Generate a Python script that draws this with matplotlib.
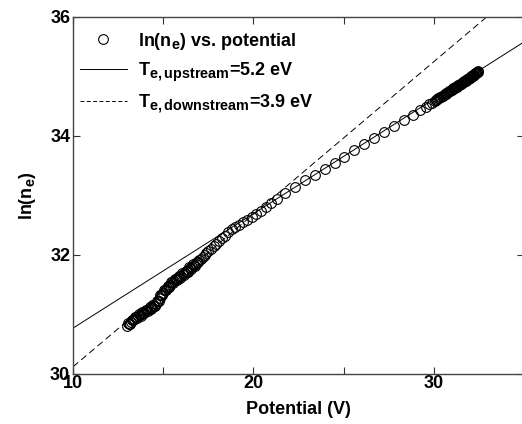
"""
ln(n_e) versus probe potential with upstream/downstream temperature fits.
"""

import matplotlib
matplotlib.use("Agg")
import matplotlib.pyplot as plt
from matplotlib.lines import Line2D

try:
    # MATLAB-like larger subscripts
    import matplotlib._mathtext as _mt
    _mt.SHRINK_FACTOR = 0.8
except Exception:
    pass

plt.rcParams["font.family"] = ["Liberation Sans", "DejaVu Sans"]
plt.rcParams["font.weight"] = "bold"
plt.rcParams["axes.labelweight"] = "bold"
plt.rcParams["mathtext.fontset"] = "custom"
plt.rcParams["mathtext.rm"] = "Liberation Sans:bold"
plt.rcParams["mathtext.it"] = "Liberation Sans:bold"
plt.rcParams["mathtext.bf"] = "Liberation Sans:bold"
plt.rcParams["mathtext.default"] = "regular"

# measured points (potential in V, ln(n_e))
potential = [
    13.0, 13.1, 13.2, 13.3, 13.4, 13.5, 13.6, 13.7, 13.8, 13.9,
    14.0, 14.1, 14.2, 14.3, 14.4, 14.5, 14.6, 14.7, 14.8, 14.9,
    15.0, 15.1, 15.2, 15.3, 15.4, 15.5, 15.6, 15.7, 15.8, 15.9,
    16.0, 16.1, 16.2, 16.3, 16.4, 16.5, 16.6, 16.7, 16.8, 16.9,
    17.0, 17.1, 17.2, 17.3, 17.4, 17.5, 17.65, 17.8, 17.95, 18.1,
    18.25, 18.4, 18.6, 18.8, 19.0, 19.2, 19.4, 19.65, 19.9, 20.15,
    20.4, 20.7, 21.0, 21.3, 21.75, 22.3, 22.85, 23.41, 23.96, 24.5,
    25.05, 25.6, 26.15, 26.7, 27.25, 27.8, 28.35, 28.84, 29.25, 29.55,
    29.75, 29.92, 30.05, 30.15, 30.25, 30.35, 30.45, 30.55, 30.65, 30.75,
    30.85, 30.95, 31.05, 31.12, 31.2, 31.28, 31.35, 31.42, 31.49, 31.56,
    31.63, 31.7, 31.76, 31.82, 31.88, 31.94, 32.0, 32.05, 32.1, 32.15,
    32.2, 32.25, 32.3, 32.35, 32.4, 32.45,
]
ln_ne = [
    30.81, 30.84, 30.87, 30.90, 30.93, 30.95, 30.97, 30.99, 31.01, 31.03,
    31.05, 31.07, 31.09, 31.11, 31.13, 31.15, 31.18, 31.23, 31.27, 31.32,
    31.36, 31.41, 31.44, 31.47, 31.50, 31.54, 31.56, 31.59, 31.61, 31.63,
    31.65, 31.68, 31.70, 31.72, 31.75, 31.78, 31.80, 31.83, 31.85, 31.88,
    31.91, 31.94, 31.97, 32.00, 32.03, 32.06, 32.10, 32.15, 32.19, 32.23,
    32.28, 32.32, 32.38, 32.43, 32.47, 32.51, 32.55, 32.59, 32.64, 32.69,
    32.74, 32.80, 32.87, 32.94, 33.04, 33.15, 33.26, 33.35, 33.45, 33.55,
    33.65, 33.76, 33.86, 33.96, 34.06, 34.17, 34.27, 34.35, 34.43, 34.49,
    34.53, 34.56, 34.59, 34.61, 34.63, 34.65, 34.67, 34.69, 34.71, 34.73,
    34.75, 34.77, 34.79, 34.80, 34.82, 34.83, 34.85, 34.86, 34.88, 34.89,
    34.90, 34.92, 34.93, 34.94, 34.96, 34.97, 34.98, 34.99, 35.00, 35.01,
    35.02, 35.03, 35.05, 35.06, 35.07, 35.09,
]

# extra samples in the two dense (saturated) stretches
potential_dense = [
    13.05, 13.15, 13.25, 13.35, 13.45, 13.55, 13.65, 13.75, 13.85, 13.95,
    14.05, 14.15, 14.25, 14.35, 14.45, 14.55, 14.65, 14.75, 14.85, 14.95,
    15.05, 15.15, 15.25, 15.35, 15.45, 15.55, 15.65, 15.75, 15.85, 15.95,
    16.05, 16.15, 16.25, 16.35, 16.45, 16.55, 16.65, 16.75, 16.85, 16.95,
    30.10, 30.20, 30.30, 30.40, 30.50, 30.60, 30.70, 30.80, 30.90, 31.00,
    31.09, 31.16, 31.24, 31.31, 31.38, 31.45, 31.52, 31.60, 31.66, 31.73,
    31.79, 31.85, 31.91, 31.97, 32.03, 32.08, 32.13, 32.18, 32.23, 32.28,
    32.33, 32.38, 32.43,
]
ln_ne_dense = [
    30.85, 30.84, 30.91, 30.90, 30.96, 30.94, 31.00, 30.98, 31.04, 31.02,
    31.08, 31.06, 31.12, 31.10, 31.16, 31.15, 31.23, 31.23, 31.32, 31.32,
    31.41, 31.41, 31.48, 31.47, 31.54, 31.53, 31.60, 31.58, 31.64, 31.62,
    31.69, 31.67, 31.73, 31.72, 31.79, 31.77, 31.84, 31.82, 31.89, 31.88,
    34.60, 34.62, 34.64, 34.66, 34.68, 34.70, 34.72, 34.74, 34.76, 34.78,
    34.80, 34.81, 34.82, 34.84, 34.85, 34.87, 34.88, 34.90, 34.91, 34.92,
    34.94, 34.95, 34.96, 34.97, 34.98, 35.00, 35.01, 35.02, 35.03, 35.04,
    35.05, 35.07, 35.08,
]

# fit lines across the axis range
fit_v = [10, 35]
fit_upstream = [30.77, 35.58]
fit_downstream = [30.12, 36.53]

labels = [
    "ln(n$_e$) vs. potential",
    "T$_{e,upstream}$=5.2 eV",
    "T$_{e,downstream}$=3.9 eV",
]

fig = plt.figure(figsize=(5.22, 4.24), dpi=100)
ax = fig.add_axes([0.1398, 0.118, 0.864, 0.842])

ax.plot(potential + potential_dense, ln_ne + ln_ne_dense, "o",
        mfc="none", mec="black", ms=7.0, mew=0.8)
ax.plot(fit_v, fit_upstream, "-", color="black", lw=0.7)
ax.plot(fit_v, fit_downstream, "--", color="black", lw=0.7, dashes=(7, 4))

ax.set_xlim(10, 35)
ax.set_ylim(30, 36)
ax.set_xticks([10, 15, 20, 25, 30, 35])
ax.set_xticklabels(["10", "", "20", "", "30", ""])
ax.set_yticks([30, 32, 34, 36])
ax.tick_params(direction="in", length=5, width=0.8, top=True, right=True,
               labelsize=13, pad=2, color="#333333")
ax.tick_params(axis="x", pad=1)
for sp in ax.spines.values():
    sp.set_color("#444444")
    sp.set_linewidth(1.0)

ax.set_xlabel("Potential (V)", fontsize=13, labelpad=6)
ax.set_ylabel("ln(n$_e$)", fontsize=13, labelpad=9)

handles = [
    Line2D([], [], ls="none", marker="o", mfc="none", mec="black", ms=7.0, mew=0.8),
    Line2D([], [], ls="-", color="black", lw=0.7),
    Line2D([], [], ls="--", color="black", lw=0.7, dashes=(4, 2.5)),
]
ax.legend(handles, labels, loc="upper left", bbox_to_anchor=(0.0155, 0.962),
          frameon=False, fontsize=13, handlelength=2.6, handletextpad=0.6,
          labelspacing=0.5, borderpad=0, borderaxespad=0)

fig.savefig("out.png", dpi=100)
plt.close(fig)
